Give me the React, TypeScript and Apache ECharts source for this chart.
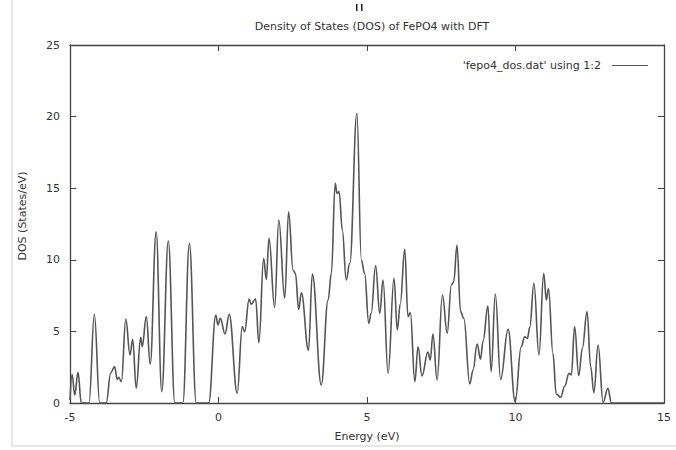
import React, { useEffect, useRef } from "react";
import * as echarts from "echarts";

const energy = [
  -5.0, -4.93, -4.84, -4.73, -4.62, -4.36, -4.18, -4.0, -3.78, -3.63, -3.5, -3.41, -3.36, -3.27,
  -3.12, -2.98, -2.89, -2.77, -2.62, -2.57, -2.43, -2.3, -2.1, -1.91, -1.69, -1.47, -1.2, -0.98,
  -0.75, -0.33, -0.09, -0.02, 0.06, 0.22, 0.36, 0.63, 0.8, 0.88, 1.03, 1.1, 1.25, 1.36, 1.52,
  1.61, 1.7, 1.89, 2.03, 2.23, 2.36, 2.51, 2.59, 2.7, 2.79, 3.03, 3.16, 3.46, 3.69, 3.8, 3.93,
  3.99, 4.06, 4.17, 4.3, 4.42, 4.66, 4.81, 4.92, 5.06, 5.14, 5.29, 5.43, 5.54, 5.71, 5.91, 6.02,
  6.12, 6.27, 6.38, 6.46, 6.61, 6.72, 6.85, 7.05, 7.13, 7.22, 7.36, 7.54, 7.7, 7.84, 7.92, 8.03,
  8.15, 8.26, 8.46, 8.57, 8.71, 8.82, 8.91, 9.07, 9.18, 9.32, 9.5, 9.75, 9.99, 10.19, 10.31,
  10.4, 10.48, 10.62, 10.79, 10.95, 11.04, 11.11, 11.26, 11.37, 11.52, 11.66, 11.8, 11.88,
  11.99, 12.13, 12.25, 12.41, 12.53, 12.64, 12.78, 12.95, 13.11, 13.23, 15.0,
];

const dos = [
  0.2, 2.0, 0.56, 2.14, 0, 0, 6.19, 0, 0, 2.1, 2.54, 1.65, 1.8, 1.49,
  5.87, 3.35, 4.45, 1.02, 4.59, 3.93, 6.03, 2.72, 11.96, 0.79, 11.31, 0, 0, 11.15,
  0, 0, 6.15, 5.45, 5.91, 4.82, 6.19, 0.68, 5.33, 4.98, 7.26, 6.89, 7.26, 4.21, 10.1,
  8.63, 11.5, 6.67, 12.78, 7.31, 13.36, 9.29, 9.05, 6.54, 7.7, 3.68, 9.0, 1.26, 7.19, 9.05, 15.34,
  14.64, 14.76, 12.08, 8.59, 9.75, 20.23, 9.99, 9.05, 5.56, 6.26, 9.59, 6.26, 8.59, 2.07, 8.71, 5.1,
  6.91, 10.75, 6.03, 6.31, 1.49, 3.93, 1.89, 3.55, 3.0, 4.82, 1.61, 7.54, 4.87, 8.24, 8.47, 11.03,
  6.38, 5.91, 1.33, 2.3, 4.12, 3.05, 4.35, 6.77, 2.19, 7.61, 1.65, 5.14, 0.09, 3.93, 4.63,
  4.51, 5.28, 8.36, 3.35, 9.05, 7.19, 8.01, 3.47, 0.63, 0.4, 1.19, 2.07, 1.96,
  5.33, 1.91, 3.82, 6.38, 2.54, 0.72, 4.05, 0.05, 1.02, 0, 0,
];

const xTicks = [-5, 0, 5, 10, 15];
const yTicks = [0, 5, 10, 15, 20, 25];

const titleText = "Density of States (DOS) of FePO4 with DFT";
const seriesName = "'fepo4_dos.dat' using 1:2";
const xName = "Energy (eV)";
const yName = "DOS (States/eV)";

export default function App() {
  const ref = useRef<HTMLDivElement>(null);
  useEffect(() => {
    if (!ref.current) return;
    const chart = echarts.init(ref.current, undefined, { renderer: "svg" });
    const font = "DejaVu Sans";
    const frame = "#444";
    const textColor = "#333";
    const curve = "#555";
    const data = energy.map((e, i) => [e, dos[i]]);
    const axisCommon = {
      axisLine: { show: true, onZero: false, lineStyle: { color: frame, width: 1.3 } },
      axisTick: { show: true, inside: true, length: 6, lineStyle: { color: frame, width: 1 } },
      splitLine: { show: false },
    };
    chart.setOption({
      animation: false,
      backgroundColor: "#fff",
      title: {
        text: titleText,
        left: 367,
        top: 16,
        textAlign: "center",
        textStyle: { fontFamily: font, fontSize: 11, fontWeight: "normal", color: textColor },
      },
      legend: {
        right: 23,
        top: 55,
        align: "right",
        itemWidth: 36,
        itemHeight: 10,
        icon: "path://M0,5 L36,5 L36,6 L0,6 Z",
        textStyle: { fontFamily: font, fontSize: 11, color: textColor, padding: [0, 6, 0, 0] },
        data: [{ name: seriesName, itemStyle: { color: curve } }],
      },
      grid: { left: 70, right: 12, top: 45, bottom: 47 },
      xAxis: [
        {
          type: "value",
          min: xTicks[0],
          max: xTicks[xTicks.length - 1],
          interval: 5,
          name: xName,
          nameLocation: "middle",
          nameGap: 28,
          nameTextStyle: { fontFamily: font, fontSize: 11, color: textColor },
          axisLabel: { fontFamily: font, fontSize: 11, color: textColor, margin: 9 },
          ...axisCommon,
        },
        {
          type: "value",
          position: "top",
          min: xTicks[0],
          max: xTicks[xTicks.length - 1],
          interval: 5,
          axisLabel: { show: false },
          ...axisCommon,
        },
      ],
      yAxis: [
        {
          type: "value",
          min: yTicks[0],
          max: yTicks[yTicks.length - 1],
          interval: 5,
          axisLabel: { fontFamily: font, fontSize: 11, color: textColor, margin: 10 },
          ...axisCommon,
        },
        {
          type: "value",
          position: "right",
          min: yTicks[0],
          max: yTicks[yTicks.length - 1],
          interval: 5,
          axisLabel: { show: false },
          ...axisCommon,
        },
      ],
      graphic: [
        {
          type: "text",
          x: 22,
          y: 216,
          rotation: Math.PI / 2,
          style: {
            text: yName,
            fontFamily: font,
            fontSize: 11,
            fill: textColor,
            align: "center",
            verticalAlign: "middle",
          },
        },
        { type: "line", shape: { x1: 12, y1: 0, x2: 12, y2: 446 }, style: { stroke: "#cfcfcf", lineWidth: 1 } },
        { type: "line", shape: { x1: 12, y1: 446, x2: 676, y2: 446 }, style: { stroke: "#cfcfcf", lineWidth: 1 } },
        { type: "rect", shape: { x: 356, y: 4, width: 1.5, height: 7 }, style: { fill: "#222" } },
        { type: "rect", shape: { x: 361, y: 4, width: 1.5, height: 7 }, style: { fill: "#222" } },
      ],
      series: [
        {
          name: seriesName,
          type: "line",
          data,
          xAxisIndex: 0,
          yAxisIndex: 0,
          smooth: 0.4,
          smoothMonotone: "x",
          symbol: "none",
          showSymbol: false,
          lineStyle: { color: curve, width: 1.6 },
          itemStyle: { color: curve },
        },
      ],
    });
    return () => chart.dispose();
  }, []);
  return (
    <div
      ref={ref}
      style={{ position: "fixed", left: 0, top: 0, width: 676, height: 450 }}
    />
  );
}
